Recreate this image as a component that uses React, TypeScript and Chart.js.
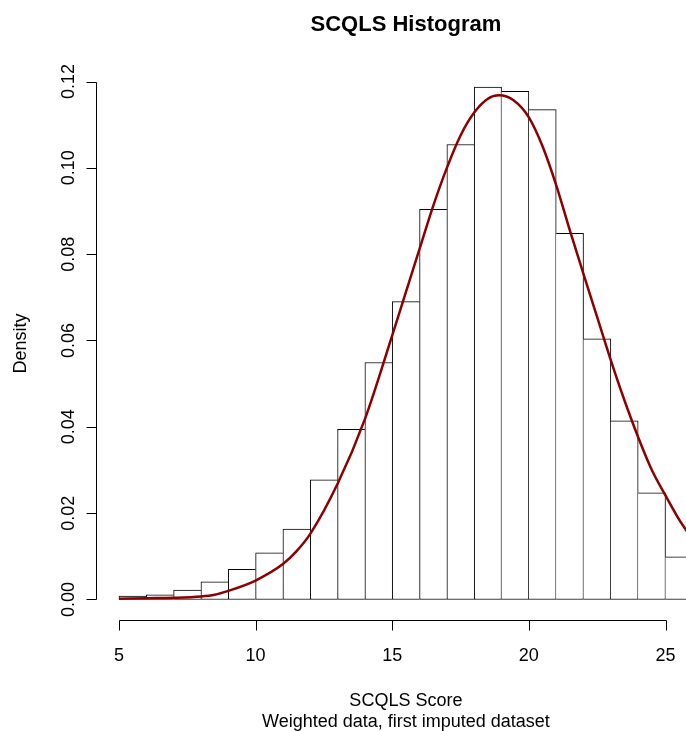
import React, { useEffect, useRef } from "react";
import { Chart, registerables } from "chart.js";

Chart.register(...registerables);

// ---- data ----
const chartTitle = "SCQLS Histogram";
const xTitle = "SCQLS Score";
const subTitle = "Weighted data, first imputed dataset";
const yTitle = "Density";

// histogram bins: left edges (width 1) and densities
const binStarts = [5, 6, 7, 8, 9, 10, 11, 12, 13, 14, 15, 16, 17, 18, 19, 20, 21, 22, 23, 24, 25];
const binDensity = [
  0.0008, 0.0011, 0.0022, 0.0041, 0.007, 0.0108, 0.0163, 0.0277, 0.0394, 0.0549, 0.069,
  0.0904, 0.1054, 0.1187, 0.1177, 0.1135, 0.0848, 0.0604, 0.0414, 0.0247, 0.0099,
];

// density curve
const curveX = [
  5, 6, 7, 8, 8.5, 9, 10, 11, 11.5, 12, 13, 14, 15, 15.5, 16, 16.5, 17, 17.5, 18, 18.5, 18.9,
  19.45, 20, 20.5, 21, 21.5, 22, 22.5, 23, 23.5, 24, 24.5, 25, 25.5, 26,
];
const curveY = [
  0.0002, 0.0003, 0.0004, 0.0007, 0.0011, 0.002, 0.0044, 0.0082, 0.0112, 0.0152, 0.0268, 0.0418,
  0.0612, 0.0712, 0.0812, 0.0912, 0.1, 0.1075, 0.1128, 0.116, 0.1168, 0.1156, 0.1117, 0.105,
  0.096, 0.0855, 0.0754, 0.0654, 0.0554, 0.0461, 0.0376, 0.03, 0.0241, 0.0185, 0.0138,
];

// axis ticks
const xTicks = [5, 10, 15, 20, 25];
const xTickLabels = ["5", "10", "15", "20", "25"];
const yTicks = [0, 0.02, 0.04, 0.06, 0.08, 0.1, 0.12];
const yTickLabels = ["0.00", "0.02", "0.04", "0.06", "0.08", "0.10", "0.12"];

// visible axis ranges (R's 4% extension, cropped at the right edge)
const xRange = [4.16, 25.75];
const yRange = [-0.00475, 0.12336];

const FONT = '"Liberation Sans", Arial, Helvetica, sans-serif';

const rAxesPlugin = {
  id: "rAxes",
  afterDraw(chart: any) {
    const { ctx, chartArea, scales } = chart;
    const xs = scales.x;
    const ys = scales.y;
    const tickLen = 10;
    ctx.save();
    ctx.strokeStyle = "#000";
    ctx.fillStyle = "#000";
    ctx.lineWidth = 1;

    // x axis
    const yAx = Math.round(chartArea.bottom) + 0.5;
    const xa = Math.round(xs.getPixelForValue(xTicks[0])) + 0.5;
    const xb = Math.round(xs.getPixelForValue(xTicks[xTicks.length - 1])) + 0.5;
    ctx.beginPath();
    ctx.moveTo(xa, yAx);
    ctx.lineTo(xb, yAx);
    xTicks.forEach((v) => {
      const px = Math.round(xs.getPixelForValue(v)) + 0.5;
      ctx.moveTo(px, yAx);
      ctx.lineTo(px, yAx + tickLen);
    });
    ctx.stroke();
    ctx.font = `18px ${FONT}`;
    ctx.textAlign = "center";
    ctx.textBaseline = "alphabetic";
    xTicks.forEach((v, i) => {
      ctx.fillText(xTickLabels[i], xs.getPixelForValue(v), yAx + 40);
    });

    // y axis
    const xAx = Math.round(chartArea.left) + 0.5;
    const ya = Math.round(ys.getPixelForValue(yTicks[0])) + 0.5;
    const yb = Math.round(ys.getPixelForValue(yTicks[yTicks.length - 1])) + 0.5;
    ctx.beginPath();
    ctx.moveTo(xAx, ya);
    ctx.lineTo(xAx, yb);
    yTicks.forEach((v) => {
      const py = Math.round(ys.getPixelForValue(v)) + 0.5;
      ctx.moveTo(xAx, py);
      ctx.lineTo(xAx - tickLen, py);
    });
    ctx.stroke();
    yTicks.forEach((v, i) => {
      ctx.save();
      ctx.translate(xAx - 23, ys.getPixelForValue(v));
      ctx.rotate(-Math.PI / 2);
      ctx.fillText(yTickLabels[i], 0, 0);
      ctx.restore();
    });

    // titles
    const midX = xs.getPixelForValue((binStarts[0] + binStarts[binStarts.length - 1] + 1) / 2);
    ctx.font = `bold 22px ${FONT}`;
    ctx.fillText(chartTitle, midX, 31);
    ctx.font = `18px ${FONT}`;
    ctx.fillText(xTitle, midX, yAx + 85);
    ctx.fillText(subTitle, midX, yAx + 106);
    ctx.save();
    ctx.translate(26, (chartArea.top + chartArea.bottom) / 2);
    ctx.rotate(-Math.PI / 2);
    ctx.fillText(yTitle, 0, 0);
    ctx.restore();

    ctx.restore();
  },
};

// each shared bin edge is outlined once, by the taller of the two neighbouring bars
const barBorder = (c: any) => {
  const i = c.dataIndex;
  const h = binDensity[i];
  const prev = i > 0 ? binDensity[i - 1] : -1;
  const next = i < binDensity.length - 1 ? binDensity[i + 1] : -1;
  return { top: 1, bottom: 1, left: h >= prev ? 1 : 0, right: h > next ? 1 : 0 };
};

export default function App() {
  const canvasRef = useRef<HTMLCanvasElement | null>(null);

  useEffect(() => {
    document.body.style.margin = "0";
    const canvas = canvasRef.current;
    if (!canvas) return;
    const chart = new Chart(canvas, {
      type: "bar",
      data: {
        datasets: [
          {
            type: "line",
            label: "density",
            data: curveX.map((x, i) => ({ x, y: curveY[i] })),
            borderColor: "#8B0000",
            borderWidth: 2.5,
            pointRadius: 0,
            fill: false,
            cubicInterpolationMode: "monotone",
            order: 0,
          } as any,
          {
            type: "bar",
            label: "histogram",
            data: binStarts.map((s, i) => ({ x: s + 0.5, y: binDensity[i] })),
            backgroundColor: "#ffffff",
            borderColor: "#000000",
            borderWidth: barBorder,
            borderSkipped: false,
            barPercentage: 1,
            categoryPercentage: 1,
            order: 1,
          } as any,
        ],
      },
      options: {
        responsive: false,
        animation: false,
        events: [],
        layout: { padding: { left: 96, right: 0, top: 67, bottom: 111 } },
        plugins: {
          legend: { display: false },
          tooltip: { enabled: false },
          title: { display: false },
        },
        scales: {
          x: {
            type: "linear",
            display: false,
            offset: false,
            min: xRange[0],
            max: xRange[1],
            afterBuildTicks: (scale: any) => {
              scale.ticks = xTicks.map((v) => ({ value: v }));
            },
          },
          y: {
            type: "linear",
            display: false,
            offset: false,
            min: yRange[0],
            max: yRange[1],
            afterBuildTicks: (scale: any) => {
              scale.ticks = yTicks.map((v) => ({ value: v }));
            },
          },
        },
      },
      plugins: [rAxesPlugin],
    });
    return () => chart.destroy();
  }, []);

  return (
    <div
      style={{
        position: "fixed",
        left: 0,
        top: 0,
        width: 686,
        height: 731,
        background: "#ffffff",
        overflow: "hidden",
      }}
    >
      <canvas ref={canvasRef} width={686} height={731} style={{ display: "block" }} />
    </div>
  );
}
